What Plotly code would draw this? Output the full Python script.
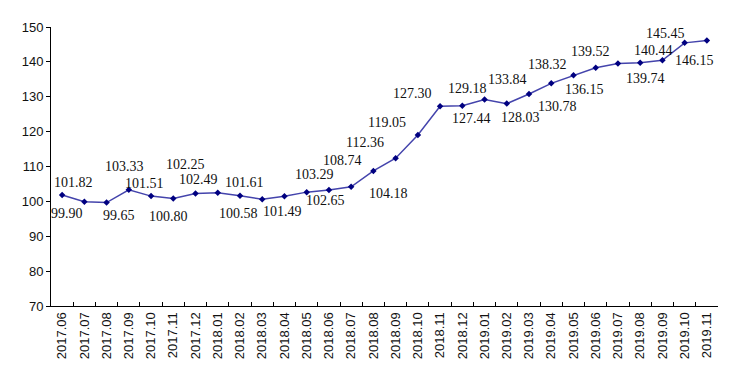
import plotly.graph_objects as go

months = ["2017.06", "2017.07", "2017.08", "2017.09", "2017.10", "2017.11", "2017.12",
          "2018.01", "2018.02", "2018.03", "2018.04", "2018.05", "2018.06", "2018.07",
          "2018.08", "2018.09", "2018.10", "2018.11", "2018.12", "2019.01", "2019.02",
          "2019.03", "2019.04", "2019.05", "2019.06", "2019.07", "2019.08", "2019.09",
          "2019.10", "2019.11"]
values = [101.82, 99.90, 99.65, 103.33, 101.51, 100.80, 102.25, 102.49, 101.61, 100.58,
          101.49, 102.65, 103.29, 104.18, 108.74, 112.36, 119.05, 127.30, 127.44, 129.18,
          128.03, 130.78, 133.84, 136.15, 138.32, 139.52, 139.74, 140.44, 145.45, 146.15]

# pixel offsets of each data label relative to its point (layout only)
label_dx = [11, -17, 12, -4, -7, -5, -10, -19, 5, -24, -2, 19, -14, 37, -31, -31, -31, -28,
            9, -17, 14, 28, -44, 11, -48, -27, 5, -9, -19, -12]
label_dy = [13, -12, -13, 23, 13, -18, 29, 13, 13, -14, -15, -8, 15, -7, 10, 16, 12, 13,
            -13, 11, -14, -12, 4, -14, 3, 12, -16, 10, 9, -20]

fig = go.Figure()
fig.add_trace(go.Scatter(
    x=months, y=values, mode="lines+markers",
    line=dict(color="#4444AC", width=1.5),
    marker=dict(symbol="diamond", size=5, color="#000080"),
    hoverinfo="x+y",
))

for i, (v, dx, dy) in enumerate(zip(values, label_dx, label_dy)):
    fig.add_annotation(x=i, y=v, xref="x", yref="y", text=f"{v:.2f}", showarrow=False,
                       xshift=dx, yshift=dy,
                       font=dict(family="Liberation Serif", size=14, color="#111111"))

fig.update_layout(
    width=731, height=371,
    margin=dict(l=51, r=13, t=27, b=65),
    paper_bgcolor="white", plot_bgcolor="white",
    showlegend=False,
    font=dict(family="Liberation Sans", size=13, color="#111111"),
)
fig.update_xaxes(
    type="category", range=[-0.5, len(months) - 0.5],
    showline=True, linecolor="black", linewidth=1,
    ticks="inside", tickson="boundaries", ticklen=4, tickcolor="black",
    tickangle=-90, tickfont=dict(size=13), showgrid=False, zeroline=False,
)
fig.update_yaxes(
    range=[70, 150], dtick=10, tick0=70,
    showline=True, linecolor="black", linewidth=1,
    ticks="outside", ticklen=4, tickcolor="black",
    showgrid=False, zeroline=False, tickfont=dict(size=13),
)

fig.write_html("out.html")
